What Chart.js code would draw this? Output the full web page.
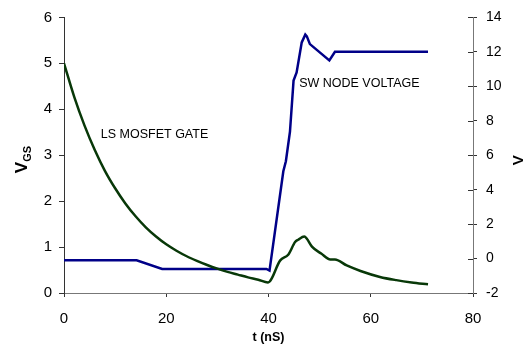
<!DOCTYPE html>
<html>
<head>
<meta charset="utf-8">
<script src="https://cdn.jsdelivr.net/npm/chart.js@4"></script>
<style>
  html, body { margin: 0; padding: 0; background: #fff; }
  #wrap { width: 524px; height: 352px; position: relative; }
</style>
</head>
<body>
<div id="wrap"><canvas id="c"></canvas></div>
<script>
// LS MOSFET gate voltage (left axis, V)
const gateTime = [0, 2, 4, 6, 8, 10, 12, 14, 16, 18, 20, 22, 24, 26, 28, 30, 32, 34, 36, 38, 39.9,
  42.3, 43.9, 45.2, 45.8, 47.0, 47.5, 48.5, 50.3, 52.1, 53.0, 55.3, 58, 61.8, 65, 68, 71.2];
const gateVolts = [5.0, 4.27, 3.65, 3.12, 2.66, 2.28, 1.95, 1.67, 1.43, 1.23, 1.06, 0.92, 0.80, 0.70, 0.61, 0.53, 0.46, 0.40, 0.34, 0.29, 0.23,
  0.71, 0.84, 1.11, 1.16, 1.23, 1.18, 1.01, 0.86, 0.73, 0.73, 0.60, 0.48, 0.35, 0.28, 0.23, 0.19];

// switch node voltage (right axis, V)
const swTime = [0, 14.2, 19.2, 39.6, 40.2, 42.9, 43.4, 44.2, 44.9, 45.5, 46.5, 47.2, 47.5, 48.1, 51.9, 53.0, 53.4, 71.2];
const swVolts = [-0.1, -0.1, -0.6, -0.6, -0.7, 5.07, 5.65, 7.37, 10.33, 10.8, 12.55, 13.0, 12.9, 12.45, 11.5, 12.0, 12.0, 12.0];

const leftTicks = [0, 1, 2, 3, 4, 5, 6];
const rightTicks = [-2, 0, 2, 4, 6, 8, 10, 12, 14];
const timeTicks = [0, 20, 40, 60, 80];

const FONT = "'Liberation Sans', Arial, sans-serif";

const gatePoints = gateTime.map((t, i) => ({ x: t, y: gateVolts[i] }));
const swPoints = swTime.map((t, i) => ({ x: t, y: swVolts[i] }));

// titles, labels and the inside half of the right axis ticks
const extras = {
  id: 'extras',
  afterDraw(chart) {
    const { ctx, chartArea, scales: { x, y, y1 } } = chart;
    ctx.save();

    // right axis ticks cross the axis line
    ctx.strokeStyle = '#333';
    ctx.lineWidth = 1;
    rightTicks.forEach(v => {
      const py = Math.round(y1.getPixelForValue(v)) + 0.5;
      ctx.beginPath();
      ctx.moveTo(chartArea.right - 5, py);
      ctx.lineTo(chartArea.right, py);
      ctx.stroke();
    });

    ctx.fillStyle = '#000';
    ctx.textBaseline = 'middle';
    ctx.textAlign = 'left';
    ctx.font = '12.5px ' + FONT;
    ctx.fillText('LS MOSFET GATE', x.getPixelForValue(7.2), y.getPixelForValue(3.46));
    ctx.fillText('SW NODE VOLTAGE', x.getPixelForValue(46.0), y1.getPixelForValue(10.15));

    // x title
    ctx.font = 'bold 12.5px ' + FONT;
    ctx.textAlign = 'center';
    ctx.fillText('t (nS)', (chartArea.left + chartArea.right) / 2, 338);

    // left title V_GS
    const midY = (chartArea.top + chartArea.bottom) / 2;
    ctx.save();
    ctx.translate(27, midY + 8);
    ctx.rotate(-Math.PI / 2);
    ctx.textAlign = 'left';
    ctx.textBaseline = 'alphabetic';
    ctx.font = 'bold 17px ' + FONT;
    ctx.fillText('V', -10, 0);
    const vw = ctx.measureText('V').width;
    ctx.font = 'bold 11px ' + FONT;
    ctx.fillText('GS', -10 + vw, 4);
    ctx.restore();

    // right title V_SW (runs off the canvas edge)
    ctx.save();
    ctx.translate(523, midY + 4);
    ctx.rotate(-Math.PI / 2);
    ctx.textAlign = 'left';
    ctx.textBaseline = 'alphabetic';
    ctx.font = 'bold 15px ' + FONT;
    ctx.fillText('V', -6, 0);
    const vw2 = ctx.measureText('V').width;
    ctx.font = 'bold 11px ' + FONT;
    ctx.fillText('SW', -6 + vw2, 10);
    ctx.restore();

    ctx.restore();
  }
};

new Chart(document.getElementById('c'), {
  type: 'line',
  data: {
    datasets: [
      {
        label: 'LS MOSFET GATE',
        data: gatePoints,
        yAxisID: 'y',
        borderColor: '#083808',
        borderWidth: 2.5,
        pointRadius: 0,
        cubicInterpolationMode: 'monotone',
        fill: false
      },
      {
        label: 'SW NODE VOLTAGE',
        data: swPoints,
        yAxisID: 'y1',
        borderColor: '#000088',
        borderWidth: 2.5,
        pointRadius: 0,
        tension: 0,
        fill: false
      }
    ]
  },
  options: {
    animation: false,
    responsive: true,
    maintainAspectRatio: false,
    layout: { padding: { top: 15, left: 0, right: 0, bottom: 0 } },
    plugins: {
      legend: { display: false },
      tooltip: { enabled: false }
    },
    scales: {
      x: {
        type: 'linear',
        min: 0,
        max: 80,
        afterFit: s => { s.height = 59; },
        afterBuildTicks: s => { s.ticks = timeTicks.map(v => ({ value: v })); },
        border: { color: '#777', width: 1 },
        grid: { drawOnChartArea: false, drawTicks: true, tickLength: 4, color: '#333' },
        ticks: { color: '#000', font: { family: FONT, size: 15 }, padding: 13, maxRotation: 0 }
      },
      y: {
        position: 'left',
        min: 0,
        max: 6,
        afterFit: s => { s.width = 64; },
        afterBuildTicks: s => { s.ticks = leftTicks.map(v => ({ value: v })); },
        border: { color: '#333', width: 1 },
        grid: { drawOnChartArea: false, drawTicks: true, tickLength: 5, color: '#333' },
        ticks: { color: '#000', font: { family: FONT, size: 15 }, padding: 7 }
      },
      y1: {
        position: 'right',
        min: -2,
        max: 14,
        afterFit: s => { s.width = 51; },
        afterBuildTicks: s => { s.ticks = rightTicks.map(v => ({ value: v })); },
        border: { color: '#777', width: 1 },
        grid: { drawOnChartArea: false, drawTicks: true, tickLength: 4, color: '#333' },
        ticks: { color: '#000', font: { family: FONT, size: 14 }, padding: 9 }
      }
    }
  },
  plugins: [extras]
});
</script>
</body>
</html>
